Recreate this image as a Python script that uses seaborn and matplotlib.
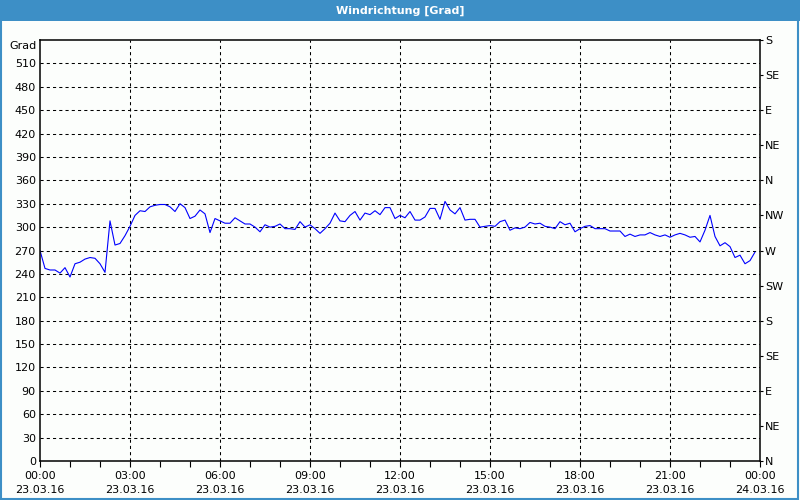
import numpy as np
import pandas as pd
import matplotlib
matplotlib.use("Agg")
import matplotlib.pyplot as plt
from matplotlib.patches import Rectangle
import seaborn as sns

# ---- data (10-minute values, 00:00 .. 23:50) ----
seg1 = [270, 247, 245, 245, 241, 248, 236, 253, 255, 259, 261, 260, 253, 242,
        308, 277, 279, 289, 301, 315, 321, 320, 326, 328, 329, 329, 326, 320,
        330, 325, 311, 314, 322, 317, 293, 311, 308]
seg2 = [305, 305, 312, 308, 304, 304, 300, 294, 303, 300, 301, 304, 298, 298,
        297, 307, 300, 303, 298, 292, 298, 305, 318, 308, 307, 315, 320, 309,
        318, 316, 321, 316, 325, 325, 311, 315]
seg3 = [312, 320, 309, 309, 313, 324, 324, 310, 333, 322, 317, 325, 309, 310,
        310, 300, 301, 302, 301, 307, 309, 296, 299, 298, 300, 306, 304, 305,
        301, 300, 298, 307, 303, 305, 294, 298]
seg4 = [301, 302, 298, 298, 298, 295, 295, 295, 288, 291, 288, 290, 290, 293,
        290, 288, 290, 287, 290, 292, 290, 287, 288, 281, 296, 315, 288, 276,
        280, 275, 261, 264, 253, 257, 268]
direction = seg1 + seg2 + seg3 + seg4
hours = [i / 6 for i in range(len(direction))]

y_ticks = list(range(0, 540, 30))
compass_labels = ["N", "NE", "E", "SE", "S", "SW", "W", "NW", "N", "NE", "E", "SE", "S"]
compass_ticks = list(range(0, 541, 45))
x_major = list(range(0, 25, 3))
x_labels = ["00:00\n23.03.16", "03:00\n23.03.16", "06:00\n23.03.16", "09:00\n23.03.16",
            "12:00\n23.03.16", "15:00\n23.03.16", "18:00\n23.03.16", "21:00\n23.03.16",
            "00:00\n24.03.16"]

df = pd.DataFrame({"h": hours, "deg": direction})

sns.set_style("white")
plt.rcParams["font.family"] = ["DejaVu Sans"]
plt.rcParams["text.color"] = "black"
plt.rcParams["xtick.color"] = "black"
plt.rcParams["ytick.color"] = "black"
plt.rcParams["xtick.labelcolor"] = "black"
plt.rcParams["ytick.labelcolor"] = "black"

fig = plt.figure(figsize=(8, 5), dpi=100)
fig.patch.set_facecolor("#fcfefc")
ax = fig.add_axes([40 / 800, 39 / 500, 720 / 800, 421 / 500])
ax.set_facecolor("#fcfefc")

sns.lineplot(data=df, x="h", y="deg", ax=ax, color="#0000ff", linewidth=0.8)

ax.set_xlim(0, 24)
ax.set_ylim(0, 540)
ax.set_xlabel("")
ax.set_ylabel("")

ax.set_yticks(y_ticks)
ax.set_yticklabels([str(v) for v in y_ticks], fontsize=8)
ax.set_xticks(x_major)
ax.set_xticklabels(x_labels, fontsize=8, linespacing=1.5)
ax.set_xticks(range(0, 25), minor=True)
ax.tick_params(axis="x", which="both", direction="out", length=4, width=0.8,
               color="black", pad=3, bottom=True)
ax.tick_params(axis="y", which="both", length=0, pad=3, left=False)

for y in y_ticks[1:]:
    ax.axhline(y, color="black", lw=0.75, ls=(0, (3, 3)), zorder=0)
for x in x_major[1:-1]:
    ax.axvline(x, color="black", lw=0.75, ls=(0, (3, 3)), zorder=0)

for s in ax.spines.values():
    s.set_visible(True)
    s.set_color("black")
    s.set_linewidth(1.1)

ax.text(-0.004, 1.0 - 6 / 421, "Grad", transform=ax.transAxes, ha="right",
        va="center", fontsize=8)

ax2 = ax.twinx()
ax2.set_ylim(0, 540)
ax2.set_yticks(compass_ticks)
ax2.set_yticklabels(compass_labels, fontsize=8)
ax2.tick_params(axis="y", direction="out", length=2.5, width=0.8, pad=1, right=True)
for s in ax2.spines.values():
    s.set_visible(False)

# title bar and frame
fig.patches.append(Rectangle((0, 1 - 21 / 500), 1, 21 / 500, transform=fig.transFigure,
                             facecolor="#3d8fc6", edgecolor="none", zorder=0))
fig.patches.append(Rectangle((0.001, 0.002), 0.997, 0.996, transform=fig.transFigure,
                             facecolor="none", edgecolor="#3d8fc6", lw=1.5, zorder=5))
fig.text(0.5, 1 - 10.5 / 500, "Windrichtung [Grad]", ha="center", va="center",
         color="white", fontsize=8, fontweight="bold")

fig.savefig("out.png", dpi=100)
